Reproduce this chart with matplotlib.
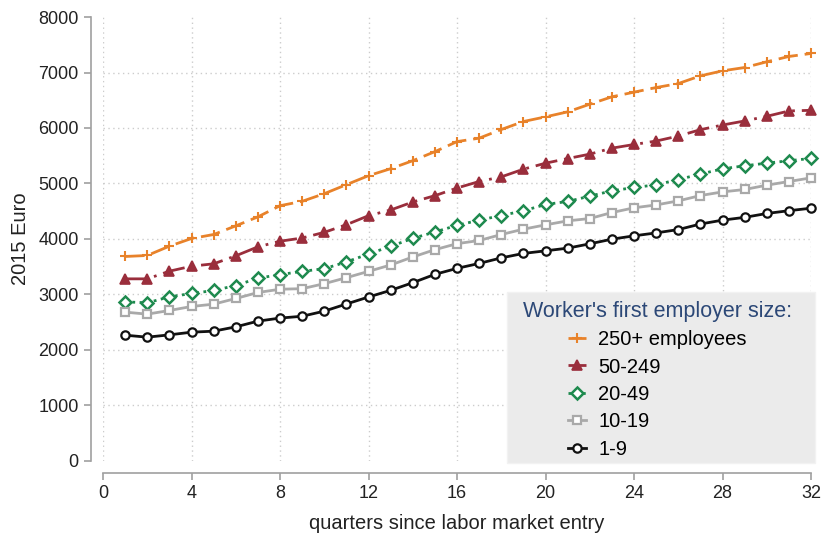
import matplotlib.pyplot as plt
from matplotlib.patches import Rectangle

plt.rcParams["font.family"] = ["Liberation Sans", "DejaVu Sans"]

quarters = list(range(1, 33))

emp_250 = [3685, 3703, 3871, 4009, 4081, 4237, 4399, 4600, 4679, 4817, 4979, 5141,
           5267, 5411, 5574, 5755, 5817, 5973, 6117, 6201, 6291, 6429, 6562, 6646,
           6729, 6801, 6940, 7030, 7090, 7193, 7289, 7343]
emp_50 = [3282, 3282, 3420, 3510, 3553, 3697, 3859, 3960, 4018, 4120, 4258, 4420,
          4523, 4667, 4781, 4919, 5036, 5120, 5258, 5366, 5450, 5529, 5637, 5703,
          5765, 5855, 5970, 6054, 6127, 6211, 6307, 6319]
emp_20 = [2868, 2850, 2958, 3018, 3072, 3162, 3294, 3358, 3417, 3465, 3586, 3730,
          3868, 4012, 4126, 4246, 4339, 4423, 4508, 4622, 4676, 4772, 4868, 4928,
          4976, 5072, 5169, 5265, 5319, 5367, 5410, 5452]
emp_10 = [2682, 2646, 2712, 2784, 2826, 2928, 3036, 3095, 3105, 3195, 3303, 3417,
          3532, 3676, 3808, 3916, 3973, 4081, 4177, 4255, 4327, 4369, 4477, 4562,
          4614, 4687, 4783, 4849, 4892, 4970, 5036, 5102]
emp_1 = [2267, 2231, 2273, 2321, 2339, 2417, 2520, 2575, 2608, 2700, 2829, 2955,
         3075, 3213, 3363, 3471, 3560, 3660, 3740, 3787, 3835, 3913, 3997, 4057,
         4110, 4170, 4270, 4340, 4390, 4460, 4510, 4555]

labels = ["250+ employees", "50-249", "20-49", "10-19", "1-9"]

x_ticks = list(range(0, 33, 4))
y_ticks = list(range(0, 8001, 1000))

fig = plt.figure(figsize=(8.21, 5.33), dpi=100)
ax = fig.add_axes([0.1255, 0.1351, 0.8624, 0.833])

styles = [
    dict(color="#e8822a", ls=(0, (7, 2.5)), marker="+", ms=7, mew=1.5, mfc="#e8822a"),
    dict(color="#9a2e3c", ls=(0, (8, 2.5, 1, 2.5)), marker="^", ms=7, mew=1.2, mfc="#9a2e3c"),
    dict(color="#1e8a4e", ls=(0, (1, 1.6)), marker="D", ms=6, mew=1.8, mfc="white"),
    dict(color="#a9a9a9", ls="-", marker="s", ms=6, mew=1.6, mfc="white"),
    dict(color="#111111", ls="-", marker="o", ms=6, mew=1.6, mfc="white"),
]

series = [emp_250, emp_50, emp_20, emp_10, emp_1]
handles = []
for vals, lab, st in zip(series, labels, styles):
    (h,) = ax.plot(quarters, vals, lw=2.0, label=lab, clip_on=False, zorder=3,
                   color=st["color"], linestyle=st["ls"], marker=st["marker"],
                   markersize=st["ms"], markeredgewidth=st["mew"],
                   markerfacecolor=st["mfc"], markeredgecolor=st["color"])
    handles.append(h)

ax.set_xlim(0, 32)
ax.set_ylim(0, 8000)
ax.set_xticks(x_ticks)
ax.set_yticks(y_ticks)

for v in x_ticks:
    ax.axvline(v, color="#cccccc", lw=1.0, ls=(0, (1, 2.5)), zorder=1)
for v in y_ticks[1:-1]:
    ax.axhline(v, color="#cccccc", lw=1.0, ls=(0, (1, 2.5)), zorder=1)

for side in ["top", "right"]:
    ax.spines[side].set_visible(False)
ax.spines["left"].set_position(("outward", 9))
ax.spines["bottom"].set_position(("outward", 8.5))
ax.spines["left"].set_bounds(0, 8000)
ax.spines["bottom"].set_bounds(0, 32)
for side in ["left", "bottom"]:
    ax.spines[side].set_color("#a0a0a0")
    ax.spines[side].set_linewidth(1.2)

ax.tick_params(axis="both", colors="#a0a0a0", labelcolor="#222222",
               labelsize=13, length=5, width=1.2, direction="out")

ax.set_xlabel("quarters since labor market entry", fontsize=14.5, color="#222222", labelpad=9)
ax.set_ylabel("2015 Euro", fontsize=14.5, color="#222222", labelpad=6)

# legend box
box = Rectangle((0.571, -0.005), 0.435, 0.386, transform=ax.transAxes,
                facecolor="#ebebeb", edgecolor="#f2f2f2", lw=1, zorder=4, clip_on=False)
ax.add_patch(box)

leg = ax.legend(handles=handles, loc="center", bbox_to_anchor=(0.783, 0.183),
                frameon=False, title="Worker's first employer size:",
                fontsize=14.5, title_fontsize=15.5, handlelength=0.9, handletextpad=0.6,
                labelspacing=0.42)
leg.get_title().set_color("#2c4877")
leg.set_zorder(5)

fig.savefig("out.png", dpi=100)
